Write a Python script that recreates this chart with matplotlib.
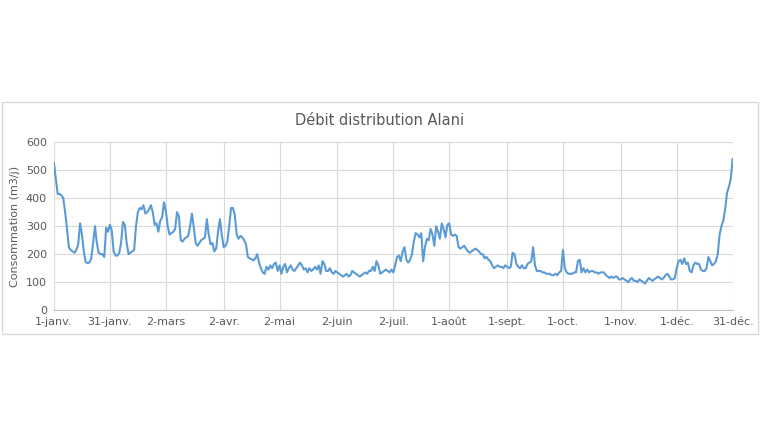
import numpy as np
import matplotlib.pyplot as plt
import matplotlib.patches as mpatches

# daily consumption (m3/j), one list per month
jan = [525,470,415,415,410,400,350,290,225,215,210,205,215,235,310,270,210,172,168,170,185,240,300,240,205,200,200,190,295,280,305]
feb = [285,210,195,195,205,240,315,305,240,200,205,210,215,300,350,365,360,375,345,350,360,375,350,305,310,280,320,330]
mar = [385,355,300,270,275,280,290,350,335,250,245,255,260,265,300,345,295,240,230,240,250,255,260,325,270,235,240,210,220,280,325]
apr = [270,225,230,245,300,365,365,340,270,255,265,260,250,235,190,185,182,178,185,200,170,150,135,130,155,145,160,150,165,170]
may = [140,160,130,155,165,135,150,160,145,140,150,160,170,160,145,150,135,150,140,145,155,145,160,130,175,165,140,140,150,135,130]
jun = [140,135,130,125,120,125,130,120,125,140,135,130,125,120,125,130,135,130,140,140,155,140,175,160,130,135,140,145,140,135]
jul = [145,135,160,190,195,175,210,225,180,170,180,200,245,275,270,260,275,175,225,255,250,290,270,230,300,280,255,310,290,260,305]
aug = [310,270,265,270,265,225,220,225,230,220,210,205,210,215,220,215,210,200,200,185,190,180,175,160,150,155,160,155,155,150,160]
sep = [155,150,155,205,200,165,155,150,160,150,150,165,170,175,225,160,140,140,140,135,135,130,130,130,125,125,130,125,135,140]
oct_ = [215,150,135,130,130,130,135,135,175,180,135,150,135,145,135,140,140,135,135,130,135,135,135,125,120,115,120,115,120,120,110]
nov = [110,115,110,105,100,110,115,105,105,100,110,105,100,95,105,115,110,105,110,115,120,115,110,115,125,130,120,110,110,115]
dec = [150,175,180,165,185,165,170,140,135,160,170,165,165,145,140,140,150,190,175,160,165,175,200,270,300,320,360,420,440,470,540]

values = jan + feb + mar + apr + may + jun + jul + aug + sep + oct_ + nov + dec
tick_days = [0, 30, 60, 91, 121, 152, 182, 212, 243, 273, 304, 334, 364]
tick_labels = ['1-janv.', '31-janv.', '2-mars', '2-avr.', '2-mai', '2-juin', '2-juil.',
               '1-août', '1-sept.', '1-oct.', '1-nov.', '1-déc.', '31-déc.']

fig = plt.figure(figsize=(7.6, 4.4), dpi=100)
fig.patches.append(mpatches.Rectangle((0.003, 0.24), 0.994, 0.528, transform=fig.transFigure,
                                      fill=False, edgecolor='#d9d9d9', lw=1))
ax = fig.add_axes([0.071, 0.295, 0.893, 0.382])
ax.plot(np.arange(len(values)), values, color='#5b9bd5', lw=1.5)

ax.set_xlim(0, 364)
ax.set_ylim(0, 600)
ax.set_yticks(range(0, 601, 100))
ax.set_xticks(tick_days)
ax.set_xticklabels(tick_labels)
ax.grid(True, color='#d9d9d9', lw=0.8)
ax.set_axisbelow(True)
for s in ['top', 'right', 'left']:
    ax.spines[s].set_visible(False)
ax.spines['bottom'].set_color('#bfbfbf')
ax.tick_params(axis='both', length=0, labelsize=8, colors='#595959', pad=5)
ax.set_ylabel('Consommation (m3/j)', fontsize=8, color='#595959')
fig.text(0.5, 0.727, 'Débit distribution Alani', ha='center', va='center', fontsize=10.5, color='#595959')

plt.savefig('out.png', dpi=100)
